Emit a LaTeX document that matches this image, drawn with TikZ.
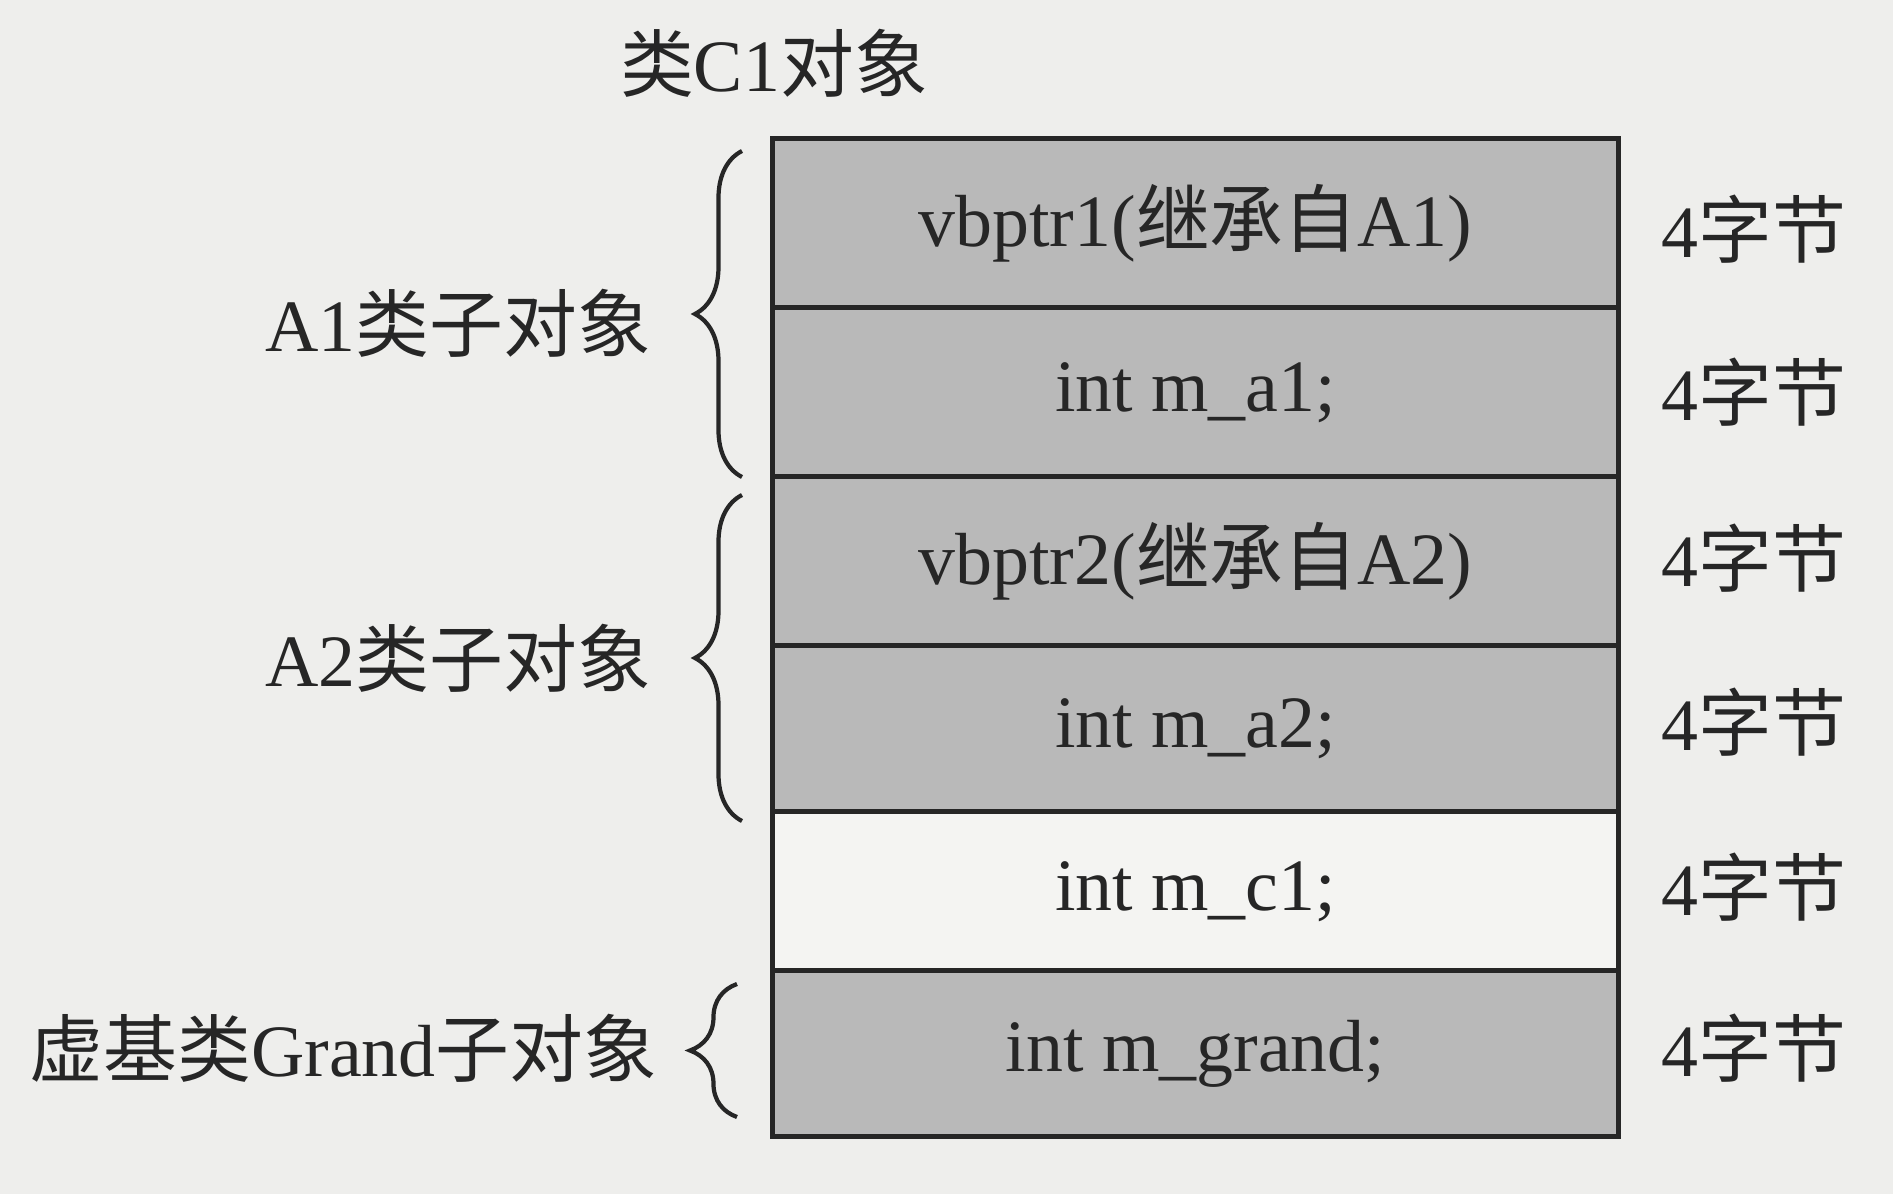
\documentclass[tikz,border=0pt]{standalone}
\usepackage{fontspec}
\setmainfont{Liberation Serif}
\newfontfamily\cjk{Noto Sans CJK SC}
\usetikzlibrary{positioning,decorations.pathreplacing}

\definecolor{paper}{HTML}{EEEEEC}
\definecolor{cellgray}{HTML}{B9B9B9}
\definecolor{cellwhite}{HTML}{F4F4F2}
\definecolor{ink}{HTML}{262626}

\tikzset{
  txt/.style={font=\fontsize{21}{25}\selectfont, text=ink, inner sep=0pt},
  cell/.style={draw=ink, line width=1.4pt, minimum width=8.45cm, inner sep=0pt, txt},
  brc/.style={draw=ink, line width=1.2pt, decorate, decoration={brace, amplitude=0.47cm}}
}

\begin{document}
\begin{tikzpicture}[x=0.01cm, y=-0.01cm]
\useasboundingbox[fill=paper] (0,0) rectangle (1893,1194);

% title
\node[txt] (title) at (774,63) {{\cjk 类}C1{\cjk 对象}};

% memory layout of the object
\node[cell, fill=cellgray, minimum height=1.69cm] (r1) at (1195.5,223.5) {vbptr1({\cjk 继承自}A1)};
\node[cell, fill=cellgray, minimum height=1.69cm] (r2) at (1195.5,392.5) {int m\_a1;};
\node[cell, fill=cellgray, minimum height=1.69cm] (r3) at (1195.5,561.5) {vbptr2({\cjk 继承自}A2)};
\node[cell, fill=cellgray, minimum height=1.66cm] (r4) at (1195.5,729) {int m\_a2;};
\node[cell, fill=cellwhite, minimum height=1.59cm] (r5) at (1195.5,891.5) {int m\_c1;};
\node[cell, fill=cellgray, minimum height=1.65cm] (r6) at (1195.5,1053.5) {int m\_grand;};

% sizes
\node[txt] (s1) at (1754,229) {4{\cjk 字节}};
\node[txt] (s2) at (1754,392) {4{\cjk 字节}};
\node[txt] (s3) at (1754,558) {4{\cjk 字节}};
\node[txt] (s4) at (1754,722) {4{\cjk 字节}};
\node[txt] (s5) at (1754,887) {4{\cjk 字节}};
\node[txt] (s6) at (1754,1048) {4{\cjk 字节}};

% braces for the sub-objects
\coordinate (a1top) at (742,151);
\coordinate (a1bot) at (742,477);
\coordinate (a2top) at (742,495);
\coordinate (a2bot) at (742,821);
\coordinate (grtop) at (737,984);
\coordinate (grbot) at (737,1117);
\draw[brc] (a1bot) -- (a1top);
\draw[brc] (a2bot) -- (a2top);
\draw[brc] (grbot) -- (grtop);

\node[txt, anchor=east] (a1lab) at (652,323) {A1{\cjk 类子对象}};
\node[txt, anchor=east] (a2lab) at (652,658) {A2{\cjk 类子对象}};
\node[txt, anchor=east] (grlab) at (658,1048) {{\cjk 虚基类}Grand{\cjk 子对象}};
\end{tikzpicture}
\end{document}
